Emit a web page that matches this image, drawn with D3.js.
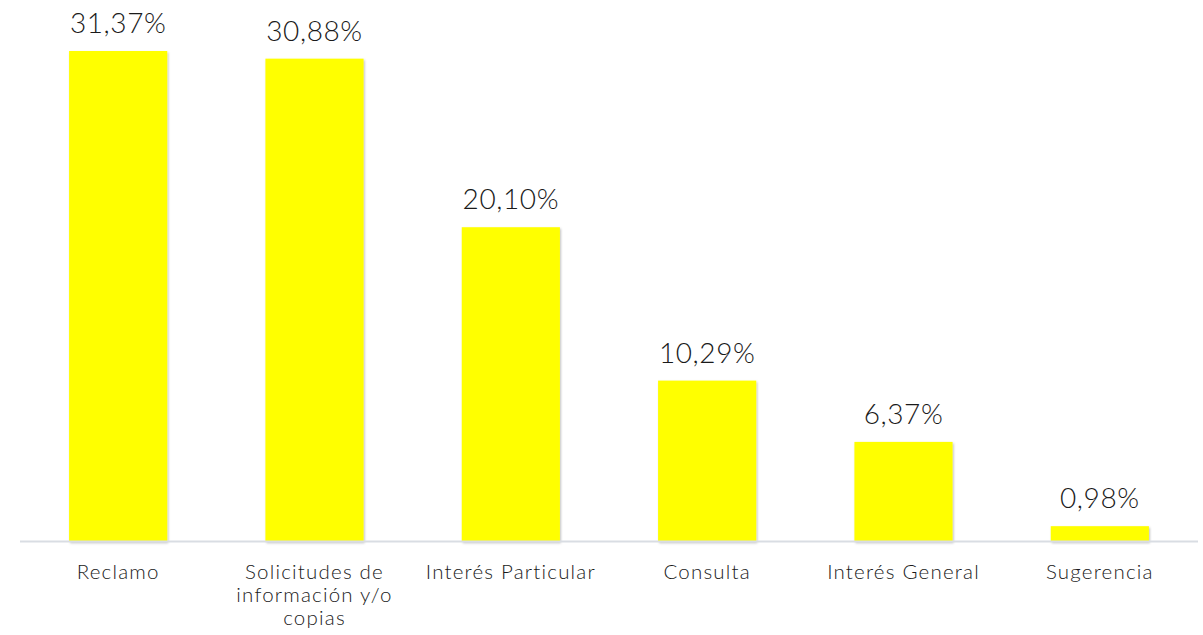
<!DOCTYPE html>
<html>
<head>
<meta charset="utf-8">
<script src="https://cdn.jsdelivr.net/npm/d3@7"></script>
<style>
  html, body { margin: 0; padding: 0; background: #ffffff; }
  svg { display: block; }
  text { font-family: "Lato", "Open Sans", sans-serif; font-weight: 300; fill: #1a1a1a; }
</style>
</head>
<body>
<div id="chart"></div>
<script>
// Distribución de solicitudes por tipo (%)
const categories = [
  ["Reclamo"],
  ["Solicitudes de", "información y/o", "copias"],
  ["Interés Particular"],
  ["Consulta"],
  ["Interés General"],
  ["Sugerencia"]
];
const values = [31.37, 30.88, 20.10, 10.29, 6.37, 0.98];
const valueLabels = ["31,37%", "30,88%", "20,10%", "10,29%", "6,37%", "0,98%"];

const width = 1203, height = 635;
const margin = { top: 51, right: 5, bottom: 93, left: 20 };
const plotW = 1198 - margin.left;
const plotH = 541.5 - margin.top;

const svg = d3.select("#chart").append("svg")
  .attr("width", width)
  .attr("height", height);

const defs = svg.append("defs");
const shadow = defs.append("filter")
  .attr("id", "barShadow")
  .attr("x", "-10%").attr("y", "-10%")
  .attr("width", "130%").attr("height", "130%");
shadow.append("feDropShadow")
  .attr("dx", 1).attr("dy", 1.5)
  .attr("stdDeviation", 1.2)
  .attr("flood-color", "#000")
  .attr("flood-opacity", 0.25);

const g = svg.append("g").attr("transform", `translate(${margin.left},${margin.top})`);

const x = d3.scaleBand()
  .domain(d3.range(values.length))
  .range([0, plotW])
  .paddingInner(0.5)
  .paddingOuter(0.25);

const y = d3.scaleLinear()
  .domain([0, values[0]])
  .range([plotH, 0]);

// bars
g.selectAll("rect.bar")
  .data(values)
  .join("rect")
  .attr("class", "bar")
  .attr("x", (d, i) => x(i))
  .attr("y", d => y(d))
  .attr("width", x.bandwidth())
  .attr("height", d => plotH - y(d))
  .attr("fill", "#ffff00")
  .attr("filter", "url(#barShadow)");

// baseline
g.append("line")
  .attr("x1", 0).attr("x2", plotW)
  .attr("y1", plotH).attr("y2", plotH)
  .attr("stroke", "#d9dde3")
  .attr("stroke-width", 2);

// value labels
g.selectAll("text.value")
  .data(values)
  .join("text")
  .attr("class", "value")
  .attr("x", (d, i) => x(i) + x.bandwidth() / 2)
  .attr("y", d => y(d) - 18)
  .attr("text-anchor", "middle")
  .style("font-size", "28px")
  .style("letter-spacing", "0.6px")
  .text((d, i) => valueLabels[i]);

// category labels
const cat = g.selectAll("text.cat")
  .data(categories)
  .join("text")
  .attr("class", "cat")
  .attr("text-anchor", "middle")
  .attr("transform", (d, i) => `translate(${x(i) + x.bandwidth() / 2},${plotH + 37})`)
  .style("font-size", "20.5px")
  .style("letter-spacing", "1.2px");

cat.selectAll("tspan")
  .data(d => d)
  .join("tspan")
  .attr("x", 0)
  .attr("dy", (d, j) => j === 0 ? 0 : 23)
  .text(d => d);
</script>
</body>
</html>
